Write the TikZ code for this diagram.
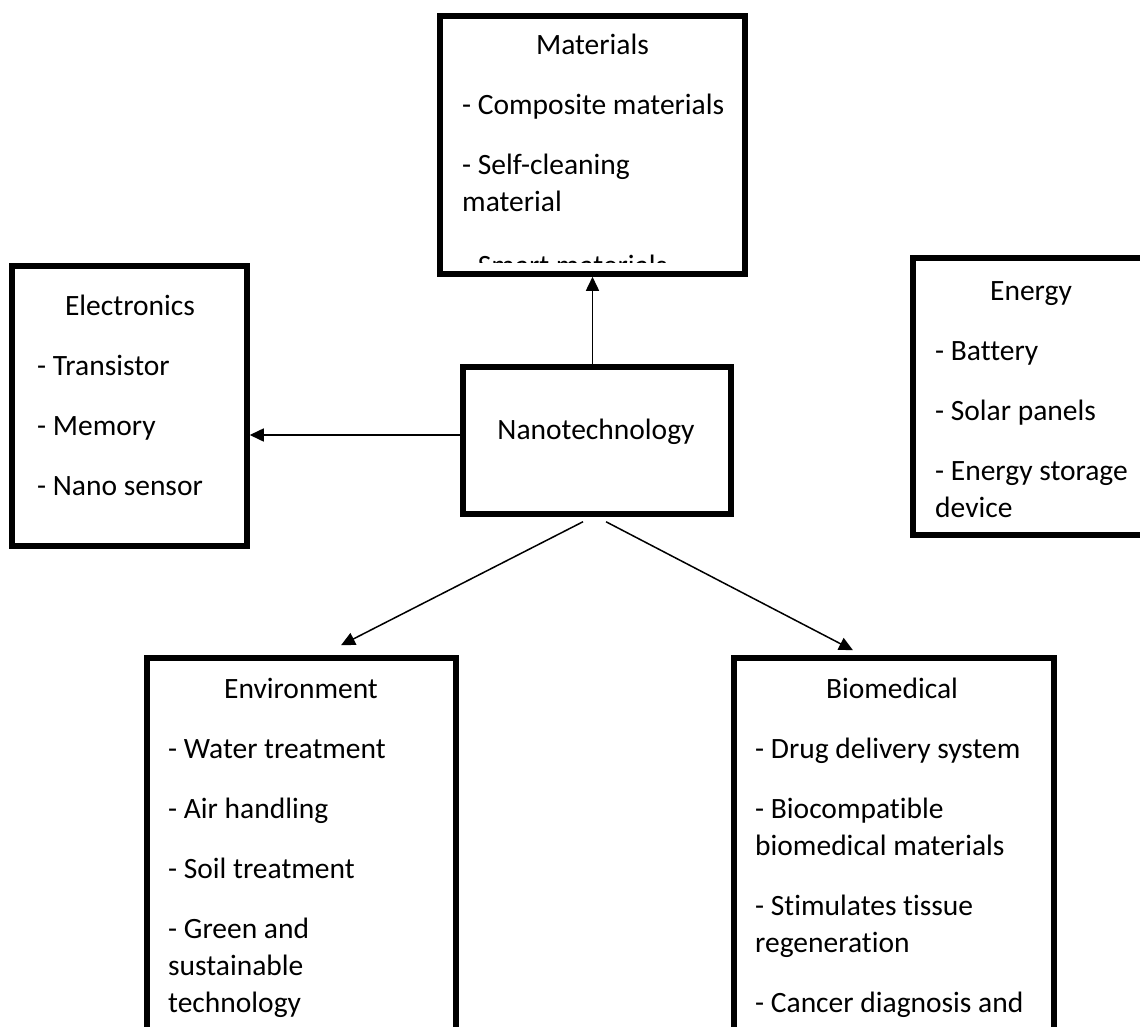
\documentclass[tikz,border=0pt]{standalone}
\usepackage{fontspec}
\setmainfont{Carlito}[Ligatures=NoCommon]
\usetikzlibrary{arrows.meta}

\begin{document}
\begin{tikzpicture}[x=1pt,y=-1pt,font=\fontsize{29.5}{37}\selectfont,
  box/.style={draw, line width=5.5pt, inner sep=0pt},
  heading/.style={anchor=base, inner sep=0pt},
  items/.style={anchor=north west, inner sep=0pt, align=left},
  link/.style={draw, line width=1.5pt, -{Triangle[length=14pt,width=13pt]}}]
\useasboundingbox (0,0) rectangle (1140,1027);
\clip (0,0) rectangle (1140,1027);

\begin{scope}
\clip (440,16) rectangle (745,262);
\node[heading] (mat-title) at (592.5,55) {Materials};
\node[items] (mat-list) at (462,88.1) {\strut- Composite materials\\[23pt]- Self-cleaning\\material\\[27pt]- Smart materials};
\end{scope}
\node[box, minimum width=305pt, minimum height=258pt] (mat) at (592.5,145) {};

\node[box, minimum width=235pt, minimum height=280pt] (elec) at (129.5,406) {};
\node[heading] (elec-title) at (130,315) {Electronics};
\node[items] (elec-list) at (37,349.1) {\strut- Transistor\\[23pt]- Memory\\[23pt]- Nano sensor};

\node[box, minimum width=268pt, minimum height=147pt] (nano) at (597,440.5) {};
\node[heading] (nano-title) at (596,439) {Nanotechnology};

\node[box, minimum width=236pt, minimum height=277pt] (energy) at (1031,396.5) {};
\node[heading] (energy-title) at (1031,300) {Energy};
\node[items] (energy-list) at (935,334.1) {\strut- Battery\\[23pt]- Solar panels\\[23pt]- Energy storage\\device};

\node[box, minimum width=309pt, minimum height=442pt] (env) at (301.5,879) {};
\node[heading] (env-title) at (301,698) {Environment};
\node[items] (env-list) at (168,732.1) {\strut- Water treatment\\[23pt]- Air handling\\[23pt]- Soil treatment\\[23pt]- Green and\\sustainable\\technology};

\node[box, minimum width=320pt, minimum height=442pt] (bio) at (894,879) {};
\node[heading] (bio-title) at (892,698) {Biomedical};
\node[items] (bio-list) at (755,732.1) {\strut- Drug delivery system\\[23pt]- Biocompatible\\biomedical materials\\[23pt]- Stimulates tissue\\regeneration\\[23pt]- Cancer diagnosis and};

\coordinate (fork-l) at ([shift={(-14,5)}]nano.south);
\coordinate (fork-r) at ([shift={(9,5)}]nano.south);
\coordinate (env-tip) at ([shift={(39.5,-10)}]env.north);
\coordinate (bio-tip) at ([shift={(-41,-5)}]bio.north);

\path[link] (nano.north -| mat.south) -- (mat.south);
\path[link] ([yshift=5.5pt]nano.west) -- ([yshift=5.5pt]nano.west -| elec.east);
\path[link] (fork-l) -- (env-tip);
\path[link] (fork-r) -- (bio-tip);

\end{tikzpicture}
\end{document}
